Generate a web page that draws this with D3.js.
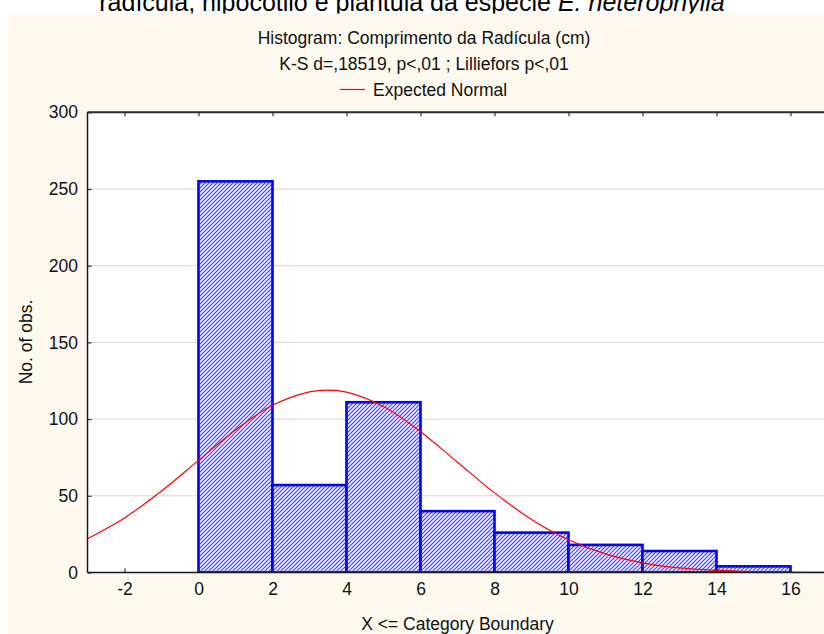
<!DOCTYPE html>
<html>
<head>
<meta charset="utf-8">
<script src="https://cdn.jsdelivr.net/npm/d3@7/dist/d3.min.js"></script>
<style>
  html, body { margin: 0; padding: 0; background: #ffffff; }
  svg { display: block; font-family: "Liberation Sans", Arial, sans-serif; }
</style>
</head>
<body>
<svg id="chart" width="824" height="634"></svg>
<script>
// Histogram bins (upper category boundaries) and observed counts
const binEdges = [0, 2, 4, 6, 8, 10, 12, 14, 16];
const counts = [255, 57, 111, 40, 26, 18, 14, 4];

// Expected normal frequencies along X
const normalX = [-3, -2, -1, 0, 1, 2, 3, 3.5, 4, 5, 6, 7, 8, 9, 10, 11, 12, 13, 14, 15, 16, 17];
const normalY = [22.0, 35.6, 53.1, 73.1, 92.9, 109.0, 117.8, 118.9, 117.6, 108.2, 91.8, 71.9, 51.9, 34.6, 21.3, 12.1, 6.3, 3.0, 1.4, 0.6, 0.2, 0.1];

// Axis ticks
const xTicks = [-2, 0, 2, 4, 6, 8, 10, 12, 14, 16];
const yTicks = [0, 50, 100, 150, 200, 250, 300];

const headerTitle = "radícula, hipocótilo e plântula da espécie ";
const headerSpecies = "E. heterophylla";
const chartTitle = "Histogram: Comprimento da Radícula (cm)";
const chartSubtitle = "K-S d=,18519, p<,01 ; Lilliefors p<,01";
const legendLabel = "Expected Normal";
const xTitle = "X <= Category Boundary";
const yTitle = "No. of obs.";

const svg = d3.select("#chart");
const W = 824, H = 634;

const plot = { left: 87.5, top: 112.3, bottom: 572.5 };

const x = d3.scaleLinear().domain([-3, 17]).range([plot.left, plot.left + 740]);
const y = d3.scaleLinear().domain([0, 300]).range([plot.bottom, plot.top]);

// Hatch fill for the bars
const defs = svg.append("defs");
const pat = defs.append("pattern")
  .attr("id", "hatch")
  .attr("patternUnits", "userSpaceOnUse")
  .attr("width", 4).attr("height", 4);
pat.append("rect").attr("width", 4).attr("height", 4).attr("fill", "#f2f2ff");
pat.append("path")
  .attr("d", "M-1,1 L1,-1 M0,4 L4,0 M3,5 L5,3")
  .attr("stroke", "#4646ff").attr("stroke-width", 1.2);

defs.append("clipPath").attr("id", "plotClip")
  .append("rect")
  .attr("x", plot.left).attr("y", plot.top)
  .attr("width", W - plot.left).attr("height", plot.bottom - plot.top);

// Header line above the panel
const header = svg.append("text")
  .attr("x", 412).attr("y", 11)
  .attr("text-anchor", "middle")
  .attr("font-size", 25)
  .attr("fill", "#000");
header.append("tspan").text(headerTitle);
header.append("tspan").attr("font-style", "italic").text(headerSpecies);

// Cream panel
svg.append("rect")
  .attr("x", 8).attr("y", 13.5)
  .attr("width", W - 8).attr("height", H - 13.5)
  .attr("fill", "#fdf9ee");

// Plot background
svg.append("rect")
  .attr("x", plot.left).attr("y", plot.top)
  .attr("width", W - plot.left).attr("height", plot.bottom - plot.top)
  .attr("fill", "#ffffff");

// Titles
svg.append("text").attr("x", 424).attr("y", 44)
  .attr("text-anchor", "middle").attr("font-size", 17.5).attr("fill", "#111")
  .text(chartTitle);
svg.append("text").attr("x", 424).attr("y", 69.5)
  .attr("text-anchor", "middle").attr("font-size", 17.5).attr("fill", "#111")
  .text(chartSubtitle);

// Legend
svg.append("line")
  .attr("x1", 340).attr("x2", 365).attr("y1", 89.5).attr("y2", 89.5)
  .attr("stroke", "#ff0000").attr("stroke-width", 1.2);
svg.append("text").attr("x", 373).attr("y", 95.5)
  .attr("font-size", 17.5).attr("fill", "#111")
  .text(legendLabel);

// Horizontal grid lines
svg.append("g")
  .selectAll("line")
  .data(yTicks.filter(d => d > 0 && d < 300))
  .join("line")
  .attr("x1", plot.left).attr("x2", W)
  .attr("y1", d => y(d)).attr("y2", d => y(d))
  .attr("stroke", "#a8a8a8").attr("stroke-width", 1)
  .attr("stroke-dasharray", "1,1");

const g = svg.append("g").attr("clip-path", "url(#plotClip)");

// Bars
const bins = counts.map((c, i) => ({ x0: binEdges[i], x1: binEdges[i + 1], n: c }));
g.selectAll("rect.bar")
  .data(bins)
  .join("rect")
  .attr("class", "bar")
  .attr("x", d => x(d.x0))
  .attr("y", d => y(d.n))
  .attr("width", d => x(d.x1) - x(d.x0))
  .attr("height", d => y(0) - y(d.n))
  .attr("fill", "url(#hatch)")
  .attr("stroke", "#0000ff")
  .attr("stroke-width", 2.6);

// Expected normal curve
const line = d3.line()
  .x((d, i) => x(normalX[i]))
  .y(d => y(d))
  .curve(d3.curveCatmullRom.alpha(0.5));
g.append("path")
  .datum(normalY)
  .attr("d", line)
  .attr("fill", "none")
  .attr("stroke", "#ff0000")
  .attr("stroke-width", 1.2);

// Axes with inward ticks
const axisColor = "#1a1a1a";
const yAxis = svg.append("g")
  .attr("transform", `translate(${plot.left},0)`)
  .call(d3.axisLeft(y).tickValues(yTicks).tickSizeInner(-4).tickSizeOuter(0).tickPadding(9.5));
const xAxis = svg.append("g")
  .attr("transform", `translate(0,${plot.bottom})`)
  .call(d3.axisBottom(x).tickValues(xTicks).tickSizeInner(-4).tickSizeOuter(0).tickPadding(10));
const topAxis = svg.append("g")
  .attr("transform", `translate(0,${plot.top})`)
  .call(d3.axisTop(x).tickValues(xTicks).tickSizeInner(-4).tickSizeOuter(0).tickFormat(""));

[yAxis, xAxis, topAxis].forEach(a => {
  a.select(".domain").remove();
  a.selectAll(".tick line").attr("stroke", "#333").attr("stroke-width", 1.2);
  a.selectAll(".tick text")
    .attr("font-family", "'Liberation Sans', Arial, sans-serif")
    .attr("font-size", 17.5).attr("fill", "#111");
});
xAxis.selectAll(".tick text").text(d => d < 0 ? "-" + Math.abs(d) : d);

// Frame lines
svg.append("line").attr("x1", plot.left).attr("x2", W)
  .attr("y1", plot.top).attr("y2", plot.top)
  .attr("stroke", "#2a2a2a").attr("stroke-width", 2);
svg.append("line").attr("x1", plot.left).attr("x2", W)
  .attr("y1", plot.bottom).attr("y2", plot.bottom)
  .attr("stroke", axisColor).attr("stroke-width", 1.5);
svg.append("line").attr("x1", plot.left).attr("x2", plot.left)
  .attr("y1", plot.top).attr("y2", plot.bottom)
  .attr("stroke", axisColor).attr("stroke-width", 1.5);

// Axis titles
svg.append("text")
  .attr("x", x(7)).attr("y", 630)
  .attr("text-anchor", "middle").attr("font-size", 17.5).attr("fill", "#111")
  .text(xTitle);
svg.append("text")
  .attr("transform", `translate(32,342) rotate(-90)`)
  .attr("text-anchor", "middle").attr("font-size", 17.5).attr("fill", "#111")
  .text(yTitle);
</script>
</body>
</html>
